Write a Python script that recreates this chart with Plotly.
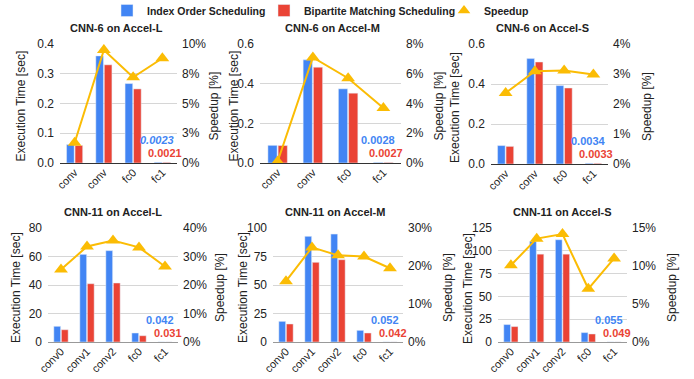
import plotly.graph_objects as go

# ---- data ----
cnn6_layers = ["conv", "conv", "fc0", "fc1"]
cnn11_layers = ["conv0", "conv1", "conv2", "fc0", "fc1"]

cnn6_L_index = [0.062, 0.360, 0.267, 0.0023]
cnn6_L_bipartite = [0.059, 0.330, 0.249, 0.0021]
cnn6_L_speedup = [1.7, 9.5, 7.2, 8.8]

cnn6_M_index = [0.089, 0.520, 0.374, 0.0028]
cnn6_M_bipartite = [0.088, 0.483, 0.352, 0.0027]
cnn6_M_speedup = [0.1, 7.1, 5.7, 3.7]

cnn6_S_index = [0.092, 0.527, 0.392, 0.0034]
cnn6_S_bipartite = [0.088, 0.510, 0.380, 0.0033]
cnn6_S_speedup = [2.37, 3.09, 3.12, 2.98]

cnn11_L_index = [11.0, 61.5, 64.1, 6.3, 0.042]
cnn11_L_bipartite = [8.6, 40.9, 41.4, 4.4, 0.031]
cnn11_L_speedup = [25.4, 33.5, 35.6, 33.2, 26.5]

cnn11_M_index = [18.1, 92.7, 94.7, 10.2, 0.052]
cnn11_M_bipartite = [15.8, 69.9, 72.2, 7.9, 0.042]
cnn11_M_speedup = [16.0, 24.9, 22.8, 22.5, 19.4]

cnn11_S_index = [19.1, 110.3, 112.1, 10.3, 0.055]
cnn11_S_bipartite = [16.9, 96.3, 96.3, 8.8, 0.049]
cnn11_S_speedup = [10.1, 13.6, 14.2, 7.0, 11.0]

titles = ["CNN-6 on Accel-L", "CNN-6 on Accel-M", "CNN-6 on Accel-S",
          "CNN-11 on Accel-L", "CNN-11 on Accel-M", "CNN-11 on Accel-S"]

time_ticks = [
    [0.0, 0.1, 0.2, 0.3, 0.4],
    [0.0, 0.2, 0.4, 0.6],
    [0.0, 0.2, 0.4, 0.6],
    [0, 20, 40, 60, 80],
    [0, 25, 50, 75, 100],
    [0, 25, 50, 75, 100, 125],
]
time_tick_labels = [
    ["0.0", "0.1", "0.2", "0.3", "0.4"],
    ["0.0", "0.2", "0.4", "0.6"],
    ["0.0", "0.2", "0.4", "0.6"],
    ["0", "20", "40", "60", "80"],
    ["0", "25", "50", "75", "100"],
    ["0", "25", "50", "75", "100", "125"],
]
speed_ticks = [
    [0, 2.5, 5, 7.5, 10],
    [0, 2, 4, 6, 8],
    [0, 1, 2, 3, 4],
    [0, 10, 20, 30, 40],
    [0, 10, 20, 30],
    [0, 5, 10, 15],
]
speed_tick_labels = [
    ["0%", "3%", "5%", "8%", "10%"],
    ["0%", "2%", "4%", "6%", "8%"],
    ["0%", "1%", "2%", "3%", "4%"],
    ["0%", "10%", "20%", "30%", "40%"],
    ["0%", "10%", "20%", "30%"],
    ["0%", "5%", "10%", "15%"],
]

# ---- styling / geometry (pixel positions converted to paper fractions) ----
W, H = 694, 379
FONT = "Liberation Sans, Arial, sans-serif"
BLUE, RED, YELLOW = "#4285F4", "#EA4335", "#FBBC04"
TXT = "#222222"


def fx(px):
    return px / W


def fy(py):
    return 1 - py / H


panels = [
    dict(layers=cnn6_layers, idx=cnn6_L_index, bip=cnn6_L_bipartite, spd=cnn6_L_speedup,
         box=(60, 177, 44, 163), t=(117, 28), lt=20, rt=213, base="#333333", ital=True),
    dict(layers=cnn6_layers, idx=cnn6_M_index, bip=cnn6_M_bipartite, spd=cnn6_M_speedup,
         box=(260, 401, 44, 163), t=(332, 28), lt=233, rt=438, base="#333333", ital=False),
    dict(layers=cnn6_layers, idx=cnn6_S_index, bip=cnn6_S_bipartite, spd=cnn6_S_speedup,
         box=(491, 608, 44, 164), t=(542, 28), lt=455, rt=647, base="#333333", ital=False),
    dict(layers=cnn11_layers, idx=cnn11_L_index, bip=cnn11_L_bipartite, spd=cnn11_L_speedup,
         box=(48, 178, 228, 342), t=(113, 212), lt=16, rt=220, base="#999999", ital=False),
    dict(layers=cnn11_layers, idx=cnn11_M_index, bip=cnn11_M_bipartite, spd=cnn11_M_speedup,
         box=(273, 403, 228, 342), t=(335, 212), lt=243, rt=448, base="#999999", ital=False),
    dict(layers=cnn11_layers, idx=cnn11_S_index, bip=cnn11_S_bipartite, spd=cnn11_S_speedup,
         box=(498, 627, 228, 342), t=(562, 212), lt=468, rt=672, base="#999999", ital=False),
]

fig = go.Figure()
annotations = []
layout_axes = {}

for i, p in enumerate(panels):
    n = i + 1
    xs = "" if n == 1 else str(n)
    sec = str(n + 6)
    pos = list(range(len(p["layers"])))
    first = (i == 0)

    fig.add_trace(go.Bar(x=pos, y=p["idx"], name="Index Order Scheduling", marker_color=BLUE,
                         xaxis="x" + xs, yaxis="y" + xs, offsetgroup="a",
                         showlegend=first, legend="legend"))
    fig.add_trace(go.Bar(x=pos, y=p["bip"], name="Bipartite Matching Scheduling", marker_color=RED,
                         xaxis="x" + xs, yaxis="y" + xs, offsetgroup="b",
                         showlegend=first, legend="legend2"))
    fig.add_trace(go.Scatter(x=pos, y=p["spd"], name="Speedup", mode="lines+markers",
                             line=dict(color=YELLOW, width=2),
                             marker=dict(symbol="triangle-up", size=12, color=YELLOW),
                             xaxis="x" + xs, yaxis="y" + sec, showlegend=False))

    x0, x1, y0, y1 = p["box"]
    dx = [fx(x0), fx(x1)]
    dy = [fy(y1), fy(y0)]
    tv = time_ticks[i]
    layout_axes["xaxis" + xs] = dict(
        domain=dx, anchor="y" + xs, range=[-0.5, len(pos) - 0.5],
        tickmode="array", tickvals=pos, ticktext=p["layers"], tickangle=-45,
        showgrid=False, zeroline=False, showline=False, ticks="",
        tickfont=dict(size=11, color=TXT), fixedrange=True,
    )
    layout_axes["yaxis" + xs] = dict(
        domain=dy, anchor="x" + xs, range=[0, tv[-1]],
        tickmode="array", tickvals=tv, ticktext=time_tick_labels[i],
        showgrid=True, gridcolor="#d6d6d6", gridwidth=1,
        zeroline=True, zerolinecolor=p["base"], zerolinewidth=1.3,
        showline=False, ticks="", ticklabelstandoff=5,
        tickfont=dict(size=12, color=TXT),
    )
    sv = speed_ticks[i]
    layout_axes["yaxis" + sec] = dict(
        domain=dy, anchor="x" + xs, overlaying="y" + xs, side="right",
        range=[0, sv[-1]], tickmode="array", tickvals=sv, ticktext=speed_tick_labels[i],
        showgrid=False, zeroline=False, showline=False, ticks="", ticklabelstandoff=4,
        tickfont=dict(size=12, color=TXT),
    )

    # panel title and axis titles
    annotations.append(dict(text="<b>%s</b>" % titles[i], x=fx(p["t"][0]), y=fy(p["t"][1]),
                            xref="paper", yref="paper", showarrow=False,
                            font=dict(size=11, color=TXT), xanchor="center", yanchor="middle"))
    yc = fy((y0 + y1) / 2 + 3)
    annotations.append(dict(text="Execution Time [sec]", x=fx(p["lt"]), y=yc, xref="paper", yref="paper",
                            textangle=-90, showarrow=False, font=dict(size=12, color=TXT),
                            xanchor="center", yanchor="middle"))
    annotations.append(dict(text="Speedup [%]", x=fx(p["rt"]), y=yc, xref="paper", yref="paper",
                            textangle=-90, showarrow=False, font=dict(size=12, color=TXT),
                            xanchor="center", yanchor="middle"))

    # value labels on the tiny last-layer bars
    last = len(pos) - 1
    blue_txt = str(p["idx"][last])
    if p["ital"]:
        blue_txt = "<i>%s</i>" % blue_txt
    annotations.append(dict(text="<b>%s</b>" % blue_txt, x=last, y=p["idx"][last],
                            xref="x" + xs, yref="y" + xs, xshift=-5, yshift=22, showarrow=False,
                            font=dict(size=11, color=BLUE), xanchor="center", yanchor="middle"))
    annotations.append(dict(text="<b>%s</b>" % p["bip"][last], x=last, y=p["bip"][last],
                            xref="x" + xs, yref="y" + xs, xshift=3, yshift=9, showarrow=False,
                            font=dict(size=11, color=RED), xanchor="center", yanchor="middle"))

# legend-only marker for the speedup series
fig.add_trace(go.Scatter(x=[None], y=[None], name="Speedup", mode="markers",
                         marker=dict(symbol="triangle-up", size=11, color=YELLOW),
                         showlegend=True, legend="legend3"))

legend_font = dict(size=10.5, color=TXT, weight="bold")


def legend_at(px):
    return dict(orientation="h", x=fx(px - 18), xanchor="left", y=1 + 4 / H, yanchor="top",
                font=legend_font, itemwidth=30, bgcolor="rgba(0,0,0,0)")


fig.update_layout(
    width=W, height=H, margin=dict(l=0, r=0, t=0, b=0, autoexpand=False),
    paper_bgcolor="white", plot_bgcolor="white",
    font=dict(family=FONT, color=TXT),
    barmode="group", bargap=0.42, bargroupgap=0.1,
    legend=legend_at(125), legend2=legend_at(282), legend3=legend_at(462),
    annotations=annotations,
    **layout_axes,
)

fig.write_html("out.html")
